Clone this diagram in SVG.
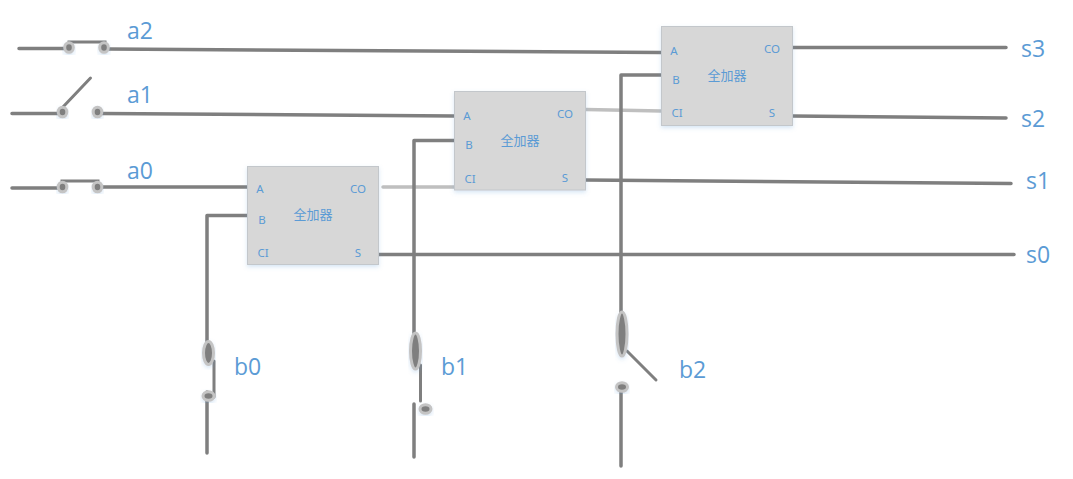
<svg xmlns="http://www.w3.org/2000/svg" width="1073" height="479" viewBox="0 0 1073 479">
<style>
text{font-family:"Liberation Sans","Noto Sans CJK SC",sans-serif;fill:#5b9bd5}
.lbl{font-size:23px;font-family:"Open Sans","Liberation Sans",sans-serif}
.pin{font-size:11.500px;font-family:"Noto Sans","Liberation Sans",sans-serif}
.name{font-size:13px;font-family:"Noto Sans CJK SC",sans-serif}
.box{fill:#d7d7d7;stroke:#c3c7cb;stroke-width:1;filter:url(#sh)}
.w{fill:none;stroke:#7f7f7f;stroke-width:3.500;stroke-linecap:round;stroke-linejoin:round}
.w2{fill:none;stroke:#7f7f7f;stroke-width:3;stroke-linecap:round}
.c{fill:none;stroke:#bfbfbf;stroke-width:3.500;stroke-linecap:round}
.t{fill:#7f7f7f;stroke:#c4c4c4;stroke-width:3;filter:url(#sh)}
</style>
<defs>
<filter id="sh" x="-20%" y="-20%" width="140%" height="140%">
<feDropShadow dx="0" dy="2" stdDeviation="2" flood-color="#5b9bd5" flood-opacity="0.25"/>
</filter>
</defs>
<g id="connectors">
<path class="w" d="M19 48.500H65M108 49L661 52.500"/>
<path class="w2" d="M69 44V42H105V44"/>
<path class="w" d="M12 113.500H58M102 113.500L454 116"/>
<path class="w2" d="M62 108L90.500 78"/>
<path class="w" d="M12 188H58M102 187H247"/>
<path class="w2" d="M62 182V181H98V182"/>
<path class="c" d="M383 187H454M586 109.500L661 111"/>
<path class="w" d="M207 348V215.500H247M207 392V453"/>
<path class="w2" d="M214 361V397"/>
<path class="w" d="M414 333V140.500H454M414 404V457"/>
<path class="w2" d="M420.500 365V401"/>
<path class="w" d="M621 313V75H661M621 392V466"/>
<path class="w2" d="M627 351L656 380"/>
<path class="w" d="M792 47.500H1006M792 116L1006 118M585 180L1011 183.500M378 254.500H1014"/>
</g>
<g id="adder-0"><rect class="box" x="247.500" y="166.500" width="131" height="98"/>
<text class="pin" x="260" y="193" text-anchor="middle">A</text><text class="pin" x="262" y="224" text-anchor="middle">B</text><text class="pin" x="263" y="257" text-anchor="middle">CI</text><text class="pin" x="358" y="193" text-anchor="middle">CO</text><text class="pin" x="358" y="257" text-anchor="middle">S</text><text class="name" x="313" y="219" text-anchor="middle">全加器</text></g>
<g id="adder-1"><rect class="box" x="454.500" y="91.500" width="131" height="98.500"/>
<text class="pin" x="467" y="120" text-anchor="middle">A</text><text class="pin" x="469" y="149" text-anchor="middle">B</text><text class="pin" x="470" y="183" text-anchor="middle">CI</text><text class="pin" x="565" y="118" text-anchor="middle">CO</text><text class="pin" x="565" y="182" text-anchor="middle">S</text><text class="name" x="520" y="145" text-anchor="middle">全加器</text></g>
<g id="adder-2"><rect class="box" x="661.500" y="26.500" width="131" height="99"/>
<text class="pin" x="674" y="55" text-anchor="middle">A</text><text class="pin" x="676" y="84" text-anchor="middle">B</text><text class="pin" x="677" y="117" text-anchor="middle">CI</text><text class="pin" x="772" y="53" text-anchor="middle">CO</text><text class="pin" x="772" y="117" text-anchor="middle">S</text><text class="name" x="727" y="80" text-anchor="middle">全加器</text></g>
<g id="switch-a2"><ellipse class="t" cx="69" cy="47.500" rx="4.300" ry="4.800"/><ellipse class="t" cx="104" cy="47.500" rx="4.300" ry="4.800"/><text class="lbl" x="127" y="39">a2</text></g>
<g id="switch-a1"><ellipse class="t" cx="62.500" cy="112" rx="4.300" ry="4.800"/><ellipse class="t" cx="97.500" cy="112" rx="4.300" ry="4.800"/><text class="lbl" x="127" y="103">a1</text></g>
<g id="switch-a0"><ellipse class="t" cx="62.500" cy="187" rx="4.300" ry="4.800"/><ellipse class="t" cx="97.500" cy="187" rx="4.300" ry="4.800"/><text class="lbl" x="127" y="179">a0</text></g>
<g id="switch-b0"><ellipse class="t" cx="208.500" cy="353" rx="5" ry="11.500"/><ellipse class="t" cx="208.500" cy="396" rx="5.500" ry="4.300"/><text class="lbl" x="234" y="375">b0</text></g>
<g id="switch-b1"><ellipse class="t" cx="415.500" cy="351" rx="5" ry="18"/><ellipse class="t" cx="425.500" cy="409" rx="5.500" ry="4.300"/><text class="lbl" x="441" y="375">b1</text></g>
<g id="switch-b2"><ellipse class="t" cx="622" cy="334" rx="5" ry="22"/><ellipse class="t" cx="622" cy="387" rx="5.500" ry="4.300"/><text class="lbl" x="679" y="378">b2</text></g>
<g id="outputs"><text class="lbl" x="1021" y="57">s3</text><text class="lbl" x="1021" y="127">s2</text><text class="lbl" x="1026" y="189">s1</text><text class="lbl" x="1026" y="263">s0</text></g>
</svg>
